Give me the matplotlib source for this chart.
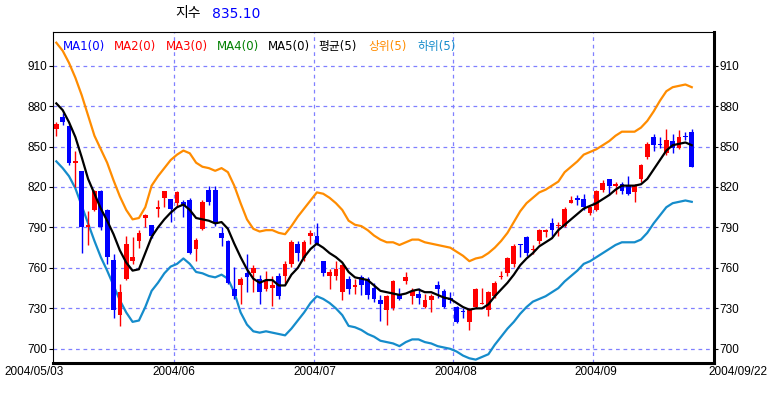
import matplotlib
matplotlib.use('Agg')
import matplotlib.pyplot as plt

# ---------------- data ----------------
date_labels = ['2004/05/03', '2004/06', '2004/07', '2004/08', '2004/09', '2004/09/22']
month_start_idx = [19, 41, 63, 85]
y_ticks = [700, 730, 760, 790, 820, 850, 880, 910]
legend_names = ['MA1(0)', 'MA2(0)', 'MA3(0)', 'MA4(0)', 'MA5(0)', '평균(5)', '상위(5)', '하위(5)']
title_name = '지수'
title_value = '835.10'

opens = [863, 872, 865, 838, 832, 790, 803, 817, 803, 766,
         725, 752, 765, 780, 797, 792, 804, 812, 811, 808,
         809, 810, 774, 789, 818, 818, 786, 780, 744, 747,
         756, 756, 752, 744, 745, 754, 754, 763, 778, 767,
         784, 784, 765, 754, 754, 742, 752, 746, 753, 752,
         745, 736, 729, 730, 741, 750, 739, 741, 731, 736,
         747, 743, 738, 731, 728, 720, 731, 733, 729, 739,
         753, 756, 763, 778, 783, 773, 780, 787, 793, 791,
         791, 808, 812, 811, 801, 803, 818, 826, 821, 822,
         821, 816, 826, 842, 857, 852, 845, 854, 849, 858,
         861]
highs = [868, 875, 866, 847, 832, 802, 818, 818, 804, 770,
         748, 784, 783, 788, 800, 792, 810, 817, 811, 817,
         810, 812, 782, 810, 821, 821, 790, 781, 761, 753,
         770, 762, 755, 758, 754, 756, 765, 781, 780, 781,
         788, 793, 765, 759, 765, 763, 754, 752, 755, 753,
         749, 740, 740, 751, 745, 757, 745, 745, 741, 741,
         750, 744, 742, 732, 730, 730, 745, 745, 743, 750,
         758, 768, 778, 778, 784, 777, 789, 789, 797, 794,
         805, 813, 814, 815, 805, 818, 825, 826, 824, 824,
         828, 822, 837, 853, 859, 857, 863, 859, 862, 861,
         863]
lows = [858, 866, 836, 820, 771, 777, 802, 788, 763, 723,
        717, 751, 763, 775, 790, 782, 798, 805, 794, 806,
        798, 770, 765, 788, 807, 791, 776, 748, 737, 733,
        742, 742, 733, 743, 732, 737, 749, 761, 765, 765,
        778, 777, 754, 744, 751, 736, 741, 741, 740, 737,
        735, 721, 718, 729, 736, 748, 733, 733, 730, 727,
        738, 730, 734, 719, 723, 714, 730, 733, 724, 738,
        752, 754, 761, 768, 769, 770, 778, 783, 784, 784,
        790, 808, 807, 803, 799, 802, 816, 814, 815, 815,
        814, 809, 824, 841, 847, 849, 844, 845, 848, 855,
        835]
closes = [867, 868, 838, 839, 790, 792, 817, 790, 768, 729,
          742, 778, 768, 786, 799, 784, 805, 817, 804, 816,
          806, 771, 781, 809, 809, 793, 782, 749, 739, 752,
          753, 760, 742, 750, 747, 739, 763, 779, 771, 779,
          786, 778, 756, 757, 759, 762, 744, 747, 747, 740,
          737, 733, 739, 750, 737, 753, 743, 738, 736, 739,
          744, 731, 736, 720, 727, 729, 744, 734, 742, 749,
          754, 767, 776, 777, 771, 774, 788, 788, 788, 792,
          804, 810, 810, 805, 805, 817, 823, 821, 822, 817,
          815, 821, 836, 852, 851, 851, 855, 849, 857, 857,
          835.10]
ma_avg = [882, 877, 868, 857, 842, 826, 815, 804, 795, 785,
          773, 764, 758, 759, 771, 783, 790, 796, 801, 805,
          807, 803, 797, 796, 795, 793, 794, 789, 778, 768,
          759, 752, 749, 751, 751, 747, 747, 755, 760, 768,
          774, 778, 775, 771, 768, 764, 757, 753, 752, 751,
          747, 743, 742, 741, 740, 741, 743, 744, 742, 742,
          740, 738, 737, 734, 731, 729, 730, 730, 733, 739,
          744, 749, 755, 762, 767, 771, 776, 779, 782, 788,
          792, 796, 800, 804, 806, 808, 811, 814, 818, 821,
          821, 821, 822, 826, 833, 840, 847, 851, 852, 853,
          851]
upper = [927, 921, 912, 901, 888, 873, 858, 848, 838, 825,
         813, 803, 796, 797, 805, 821, 828, 834, 840, 844,
         847, 845, 838, 835, 834, 832, 834, 831, 821, 808,
         796, 789, 787, 788, 788, 786, 785, 791, 798, 804,
         810, 816, 815, 812, 808, 803, 795, 792, 791, 788,
         784, 781, 779, 779, 777, 779, 781, 781, 779, 778,
         777, 776, 775, 772, 769, 765, 767, 768, 771, 775,
         780, 786, 794, 802, 808, 812, 816, 818, 821, 824,
         831, 835, 839, 844, 846, 848, 851, 854, 858, 861,
         861, 861, 864, 869, 876, 884, 891, 894, 895, 896,
         894]
lower = [839, 834, 828, 819, 806, 793, 780, 768, 758, 747,
         736, 727, 720, 721, 731, 743, 749, 756, 761, 763,
         767, 763, 757, 756, 754, 753, 755, 752, 742, 727,
         718, 713, 712, 713, 712, 711, 710, 715, 721, 727,
         734, 739, 737, 734, 730, 725, 717, 716, 714, 711,
         709, 706, 705, 704, 702, 705, 707, 707, 705, 704,
         702, 701, 700, 698, 695, 693, 692, 694, 696, 703,
         709, 715, 720, 726, 731, 735, 737, 739, 742, 745,
         750, 754, 758, 763, 765, 768, 771, 774, 777, 779,
         779, 779, 781, 786, 793, 799, 805, 808, 809, 810,
         809]

# ---------------- style ----------------
UP = '#FF0000'
DOWN = '#0000FF'
ORANGE = '#FF8C00'
LOWBLUE = '#158CCB'
GRID = '#8080FF'
legend_colors = ['#0000FF', '#FF0000', '#FF0000', '#008000', '#000000',
                 '#000000', ORANGE, LOWBLUE]
legend_x_px = [63, 114, 165.5, 216.5, 267.5, 318, 368, 418]

plt.rcParams['font.family'] = ['DejaVu Sans', 'Noto Sans CJK KR']
AXFONT = ['Liberation Sans', 'DejaVu Sans']

W, H = 770, 395
fig = plt.figure(figsize=(W / 100, H / 100), dpi=100)
ax_left, ax_right, ax_top, ax_bottom = 52.7, 714, 32.3, 363
ax = fig.add_axes([ax_left / W, 1 - ax_bottom / H,
                   (ax_right - ax_left) / W, (ax_bottom - ax_top) / H])

n = len(closes)
idx = list(range(n))

# grid
ax.set_yticks(y_ticks)
ax.set_xticks([m - 0.5 for m in month_start_idx])
ax.grid(True, color=GRID, linestyle=(0, (3, 3)), linewidth=0.9)
ax.set_axisbelow(True)

# bands and average
ax.plot(idx, upper, color=ORANGE, lw=1.6, zorder=3, solid_joinstyle='round')
ax.plot(idx, lower, color=LOWBLUE, lw=1.6, zorder=3, solid_joinstyle='round')
ax.plot(idx, ma_avg, color='black', lw=1.6, zorder=5, solid_joinstyle='round')

# candles
for i in idx:
    o, h, l, c = opens[i], highs[i], lows[i], closes[i]
    col = UP if c >= o else DOWN
    ax.vlines(i, l, h, color=col, lw=1.0, zorder=4)
    bottom = min(o, c)
    height = max(abs(c - o), 0.9)
    ax.bar(i, height, bottom=bottom, width=0.74, color=col, linewidth=0, zorder=4)

ax.set_xlim(-0.57, 103.5)
ax.set_ylim(689.5, 934.7)

# spines
for s in ['left', 'top']:
    ax.spines[s].set_linewidth(0.8)
for s in ['right', 'bottom']:
    ax.spines[s].set_linewidth(2.2)

ax.tick_params(axis='y', which='both', left=True, right=True, labelleft=True,
               labelright=True, length=3, width=0.8, pad=1, labelsize=8.5)
ax.set_yticklabels([str(v) for v in y_ticks], family=AXFONT)
ax.tick_params(axis='x', length=0, labelbottom=False)

# x labels (positioned as in the reference)
ylab = 1 - 372 / H
fig.text(4 / W, ylab, date_labels[0], ha='left', va='center', fontsize=8.5, family=AXFONT)
for lab, xc in zip(date_labels[1:5], [174, 315, 456, 596]):
    fig.text(xc / W, ylab, lab, ha='center', va='center', fontsize=8.5, family=AXFONT)
fig.text(767 / W, ylab, date_labels[5], ha='right', va='center', fontsize=8.5, family=AXFONT)

# title
fig.text(175 / W, 1 - 13.5 / H, title_name, ha='left', va='center',
         fontsize=10, family=['Noto Sans CJK KR', 'DejaVu Sans'])
fig.text(212 / W, 1 - 13.5 / H, title_value, ha='left', va='center',
         fontsize=10, color='#0000FF', family=['DejaVu Sans'])

# legend text inside the plot
for name, col, xp in zip(legend_names, legend_colors, legend_x_px):
    fig.text(xp / W, 1 - 46.5 / H, name, ha='left', va='center',
             fontsize=8.5, color=col, family=['DejaVu Sans', 'Noto Sans CJK KR'],
             zorder=10)

fig.savefig('out.png', dpi=100)
